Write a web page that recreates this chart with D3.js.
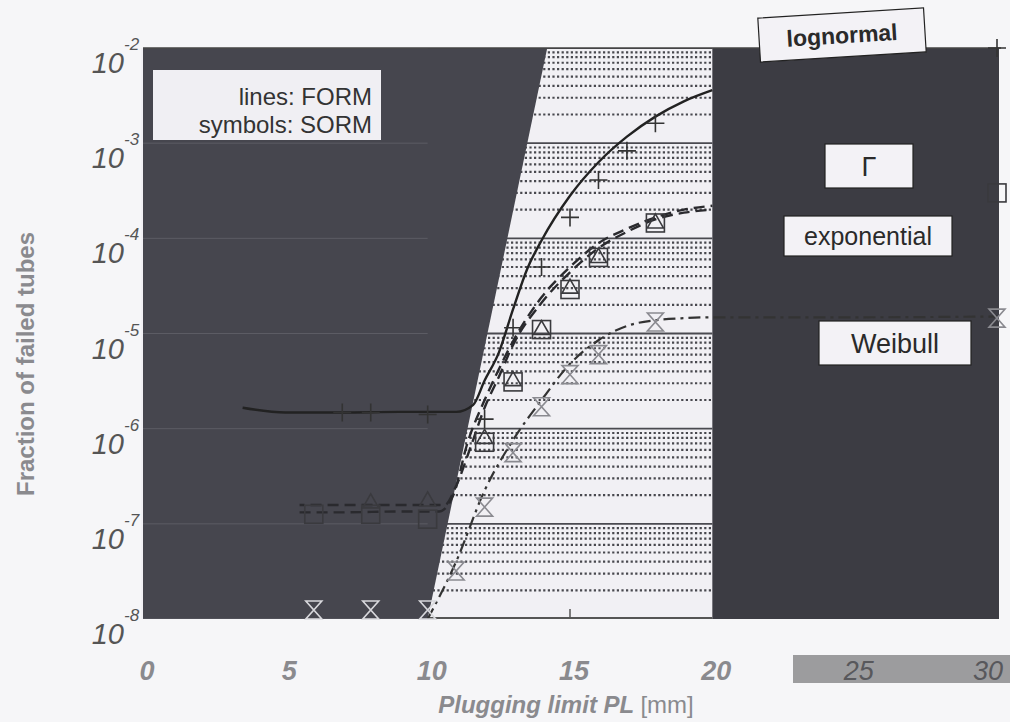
<!DOCTYPE html>
<html>
<head>
<meta charset="utf-8">
<script src="https://cdn.jsdelivr.net/npm/d3@7"></script>
<style>
  body { margin: 0; background: #f6f6f8; }
  svg { display: block; font-family: "Liberation Sans", Arial, sans-serif; }
</style>
</head>
<body>
<svg id="chart" width="1010" height="722"></svg>
<script>
// ---- data (x = plugging limit in mm, y = fraction of failed tubes)
const xTicks = [0, 5, 10, 15, 20, 25, 30];
const yTicks = [-2, -3, -4, -5, -6, -7, -8];

// lognormal: FORM line + SORM symbols (+)
const lognormalFormX = [3.5, 5, 7, 9, 11, 11.6, 12, 12.5, 13, 13.5, 14, 15, 16, 17, 18, 19, 20];
const lognormalFormY = [1.66e-6, 1.48e-6, 1.48e-6, 1.5e-6, 1.5e-6, 1.78e-6, 3.2e-6, 6.3e-6, 1.8e-5, 4.8e-5, 9.5e-5, 2.8e-4, 6.3e-4, 1.17e-3, 1.9e-3, 2.75e-3, 3.6e-3];
const lognormalSormX = [7, 8, 10, 12, 13, 14, 15, 16, 17, 18, 30];
const lognormalSormY = [1.48e-6, 1.48e-6, 1.41e-6, 1.26e-6, 1.15e-5, 5.0e-5, 1.66e-4, 4.1e-4, 8.3e-4, 1.62e-3, 1e-2];

// gamma: FORM dashed + SORM squares
const gammaFormX = [5.5, 7, 9, 10.4, 10.9, 11.4, 12, 12.5, 13, 14, 15, 16, 17, 18, 19, 20];
const gammaFormY = [1.32e-7, 1.32e-7, 1.35e-7, 1.35e-7, 2.0e-7, 7.1e-7, 2.0e-6, 4.2e-6, 8.3e-6, 2.4e-5, 5.0e-5, 8.9e-5, 1.26e-4, 1.66e-4, 2.0e-4, 2.2e-4];
const gammaSormX = [6, 8, 10, 12, 13, 14, 15, 16, 18, 30];
const gammaSormY = [1.26e-7, 1.26e-7, 1.12e-7, 7.2e-7, 3.1e-6, 1.1e-5, 2.9e-5, 6.3e-5, 1.45e-4, 3.0e-4];

// exponential: FORM dashed + SORM triangles
const expFormX = [5.5, 7, 9, 10.6, 11, 11.5, 12, 12.5, 13, 14, 15, 16, 17, 18, 19, 20];
const expFormY = [1.58e-7, 1.58e-7, 1.58e-7, 1.58e-7, 2.5e-7, 6.3e-7, 1.66e-6, 3.5e-6, 7.6e-6, 2.1e-5, 4.4e-5, 7.9e-5, 1.17e-4, 1.58e-4, 1.86e-4, 2.0e-4];
const expSormX = [8, 10, 12, 13, 14, 15, 16, 18];
const expSormY = [1.66e-7, 1.74e-7, 7.9e-7, 3.2e-6, 1.1e-5, 3.0e-5, 6.3e-5, 1.45e-4];

// Weibull: FORM dash-dot + SORM hourglasses
const weibullFormX = [10, 11, 12, 13, 14, 15, 16, 17, 18, 19, 20, 25, 30];
const weibullFormY = [1e-8, 4.0e-8, 2.24e-7, 7.6e-7, 2.0e-6, 4.8e-6, 8.5e-6, 1.2e-5, 1.38e-5, 1.45e-5, 1.48e-5, 1.48e-5, 1.51e-5];
const weibullSormX = [6, 8, 10, 11, 12, 13, 14, 15, 16, 18, 30];
const weibullSormY = [1e-8, 1e-8, 1e-8, 3.2e-8, 1.5e-7, 5.6e-7, 1.7e-6, 3.7e-6, 6.0e-6, 1.32e-5, 1.45e-5];

// shaded zones: left boundary of the feasible band at the bottom and top of the plot
const zoneBottomX = 10, zoneTopX = 14.2, zoneRightX = 20;

const svg = d3.select("#chart");
const xScale = d3.scaleLinear().domain([0, 30]).range([143, 997]);
const yScale = d3.scaleLog().domain([1e-8, 1e-2]).range([619, 48]);

const zip = (xs, ys) => xs.map((x, i) => ({ x: x, y: ys[i] }));

// clip
svg.append("clipPath").attr("id", "plotclip")
  .append("rect")
  .attr("x", xScale(0) - 2).attr("y", yScale(1e-2))
  .attr("width", xScale(30) - xScale(0) + 4)
  .attr("height", yScale(1e-8) - yScale(1e-2));

const plot = svg.append("g").attr("clip-path", "url(#plotclip)");

// light background
plot.append("rect")
  .attr("x", xScale(0) - 2).attr("y", yScale(1e-2))
  .attr("width", xScale(30) - xScale(0) + 4)
  .attr("height", yScale(1e-8) - yScale(1e-2))
  .attr("fill", "#f1f0f4");

// minor (dotted) and major grid lines, log style
const minorVals = [];
for (let e = -8; e < -2; e++) {
  for (let k = 2; k <= 9; k++) minorVals.push(k * Math.pow(10, e));
}
plot.selectAll(".minor").data(minorVals).join("line")
  .attr("x1", xScale(0)).attr("x2", xScale(zoneRightX))
  .attr("y1", d => yScale(d)).attr("y2", d => yScale(d))
  .attr("stroke", "#48484e").attr("stroke-width", 2.2)
  .attr("stroke-dasharray", "2.2,2.4");
plot.selectAll(".major").data(yTicks).join("line")
  .attr("x1", xScale(0)).attr("x2", xScale(zoneRightX))
  .attr("y1", d => yScale(Math.pow(10, d))).attr("y2", d => yScale(Math.pow(10, d)))
  .attr("stroke", "#4a4a50").attr("stroke-width", 1.8);

// dark zones
const leftZone = [[0, 1e-8], [zoneBottomX, 1e-8], [zoneTopX, 1e-2], [0, 1e-2]];
plot.append("path")
  .attr("d", d3.line().x(d => xScale(d[0])).y(d => yScale(d[1]))(leftZone) + "Z")
  .attr("fill", "#46464e");
plot.append("rect")
  .attr("x", xScale(zoneRightX)).attr("y", yScale(1e-2))
  .attr("width", xScale(30) - xScale(zoneRightX) + 4)
  .attr("height", yScale(1e-8) - yScale(1e-2))
  .attr("fill", "#3c3c43");
// faint texture lines inside dark zones
plot.selectAll(".dmajor").data(yTicks).join("line")
  .attr("x1", xScale(0)).attr("x2", xScale(zoneBottomX))
  .attr("y1", d => yScale(Math.pow(10, d))).attr("y2", d => yScale(Math.pow(10, d)))
  .attr("stroke", "#5c5c64").attr("stroke-width", 1);

// bottom axis line + tick in the light band
plot.append("line")
  .attr("x1", xScale(zoneBottomX)).attr("x2", xScale(zoneRightX))
  .attr("y1", yScale(1e-8) - 1).attr("y2", yScale(1e-8) - 1)
  .attr("stroke", "#555").attr("stroke-width", 2);
plot.append("line")
  .attr("x1", xScale(15)).attr("x2", xScale(15))
  .attr("y1", yScale(1e-8)).attr("y2", yScale(1e-8) - 10)
  .attr("stroke", "#555").attr("stroke-width", 1.5);

// top frame line
svg.append("line")
  .attr("x1", xScale(0)).attr("x2", xScale(30) + 4)
  .attr("y1", yScale(1e-2)).attr("y2", yScale(1e-2))
  .attr("stroke", "#444").attr("stroke-width", 1.5);

// curves
const line = d3.line().x(d => xScale(d.x)).y(d => yScale(d.y));
plot.append("path").datum(zip(lognormalFormX, lognormalFormY))
  .attr("d", line.curve(d3.curveMonotoneX)).attr("fill", "none")
  .attr("stroke", "#222").attr("stroke-width", 2.4);
plot.append("path").datum(zip(gammaFormX, gammaFormY))
  .attr("d", line).attr("fill", "none")
  .attr("stroke", "#2a2a2e").attr("stroke-width", 2.4).attr("stroke-dasharray", "11,6");
plot.append("path").datum(zip(expFormX, expFormY))
  .attr("d", line).attr("fill", "none")
  .attr("stroke", "#2a2a2e").attr("stroke-width", 2.4).attr("stroke-dasharray", "11,6")
  .attr("stroke-dashoffset", 6);
plot.append("path").datum(zip(weibullFormX, weibullFormY))
  .attr("d", line).attr("fill", "none")
  .attr("stroke", "#333").attr("stroke-width", 2.2).attr("stroke-dasharray", "12,5,3,5");

// symbols
const mk = svg.append("g");
mk.selectAll(".plus").data(zip(lognormalSormX, lognormalSormY)).join("path")
  .attr("transform", d => `translate(${xScale(d.x)},${yScale(d.y)})`)
  .attr("d", "M-9,0H9M0,-9V9")
  .attr("stroke", "#333").attr("stroke-width", 1.6).attr("fill", "none");
mk.selectAll(".sq").data(zip(gammaSormX, gammaSormY)).join("rect")
  .attr("x", d => xScale(d.x) - 9).attr("y", d => yScale(d.y) - 9)
  .attr("width", 18).attr("height", 18)
  .attr("stroke", "#3a3a3e").attr("stroke-width", 1.6).attr("fill", "none");
mk.selectAll(".tri").data(zip(expSormX, expSormY)).join("path")
  .attr("transform", d => `translate(${xScale(d.x)},${yScale(d.y)})`)
  .attr("d", "M0,-9L8,5H-8Z")
  .attr("stroke", "#3a3a3e").attr("stroke-width", 1.6).attr("fill", "none");
mk.selectAll(".hg").data(zip(weibullSormX, weibullSormY)).join("path")
  .attr("transform", d => `translate(${xScale(d.x)},${yScale(d.y) - (d.y <= 1e-8 ? 9 : 0)})`)
  .attr("d", "M-8,-9H8L-8,9H8Z")
  .attr("stroke", d => d.y <= 1e-8 ? "#d8d8dc" : "#8a8a90")
  .attr("stroke-width", 1.6).attr("fill", "none");

// label boxes
function labelBox(cx, cy, w, h, txt, size, angle) {
  const g = svg.append("g").attr("transform", `translate(${cx},${cy}) rotate(${angle || 0})`);
  g.append("rect").attr("x", -w / 2).attr("y", -h / 2).attr("width", w).attr("height", h)
    .attr("fill", "#f3f2f6").attr("stroke", "#222").attr("stroke-width", 1.2);
  g.append("text").attr("text-anchor", "middle").attr("y", size * 0.36)
    .attr("font-size", size).attr("fill", "#2a2a2a").text(txt);
  return g;
}
labelBox(842, 35, 166, 44, "lognormal", 23, -3.5).select("text").attr("font-weight", "bold");
labelBox(869, 166, 88, 44, "\u0393", 27);
labelBox(868, 236, 168, 40, "exponential", 25);
labelBox(895, 343, 152, 44, "Weibull", 27);

// FORM / SORM legend
const leg = svg.append("g");
leg.append("rect").attr("x", 153).attr("y", 70).attr("width", 228).attr("height", 70)
  .attr("fill", "#f0eff3");
leg.append("text").attr("x", 372).attr("y", 105).attr("text-anchor", "end")
  .attr("font-size", 24).attr("fill", "#333").text("lines: FORM");
leg.append("text").attr("x", 372).attr("y", 133).attr("text-anchor", "end")
  .attr("font-size", 24).attr("fill", "#333").text("symbols: SORM");

// y tick labels 10^n
const yl = svg.append("g");
yTicks.forEach(e => {
  yl.append("text").attr("x", 124).attr("y", yScale(Math.pow(10, e)) + 25)
    .attr("text-anchor", "end").attr("font-style", "italic")
    .attr("font-size", 29).attr("fill", "#555").text("10");
  yl.append("text").attr("x", 124).attr("y", yScale(Math.pow(10, e)) + 2)
    .attr("font-style", "italic").attr("font-size", 17).attr("fill", "#555").text(e);
});

// x tick labels
svg.append("rect").attr("x", 793).attr("y", 655).attr("width", 217).attr("height", 28)
  .attr("fill", "#9c9c9e");
svg.selectAll(".xl").data(xTicks).join("text")
  .attr("x", d => d === 30 ? 988 : xScale(d) + 4).attr("y", 680)
  .attr("text-anchor", "middle").attr("font-style", "italic")
  .attr("font-weight", d => d > 20 ? "normal" : "bold")
  .attr("font-size", 27)
  .attr("fill", d => d > 20 ? "#58585c" : "#8a8a8e")
  .text(d => d);

// axis titles
svg.append("text").attr("transform", "translate(34,364) rotate(-90)")
  .attr("text-anchor", "middle").attr("font-weight", "bold").attr("font-size", 24)
  .attr("fill", "#8a8a8e").text("Fraction of failed tubes");
const xt = svg.append("text").attr("x", 566).attr("y", 713)
  .attr("text-anchor", "middle").attr("font-weight", "bold").attr("font-size", 24)
  .attr("fill", "#8a8a8e");
xt.append("tspan").attr("font-style", "italic").text("Plugging limit PL ");
xt.append("tspan").attr("font-weight", "normal").text("[mm]");
</script>
</body>
</html>
